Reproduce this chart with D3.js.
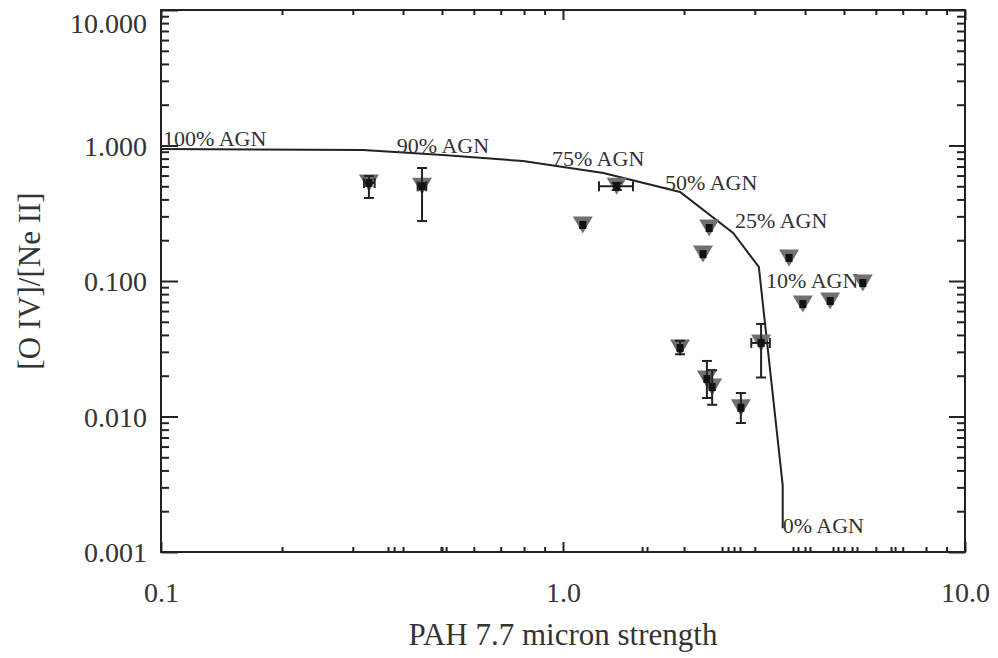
<!DOCTYPE html>
<html>
<head>
<meta charset="utf-8">
<script src="https://cdn.jsdelivr.net/npm/d3@7"></script>
<style>
  body { margin: 0; background: #fff; }
  text { font-family: "Liberation Serif", "Times New Roman", serif; fill: #333; }
</style>
</head>
<body>
<div id="chart"></div>
<script>
// PAH strength vs [O IV]/[Ne II] with AGN mixing line

// galaxies: PAH 7.7 strength and line ratio
const pahStrength = [0.329, 0.446, 1.36, 1.12, 2.31, 2.23, 3.65, 5.57, 3.95, 4.62, 1.955, 2.28, 2.35, 2.77, 3.11];
const lineRatio   = [0.529, 0.50, 0.50, 0.259, 0.246, 0.158, 0.148, 0.0966, 0.0676, 0.0712, 0.032, 0.0189, 0.0165, 0.0116, 0.0349];
// error ranges (null = no visible bar)
const ratioLow  = [0.41, 0.277, 0.47, null, null, null, null, null, null, null, 0.0288, 0.0137, 0.0122, 0.00895, 0.0194];
const ratioHigh = [0.595, 0.682, 0.53, null, null, null, null, null, null, null, 0.0362, 0.0257, 0.022, 0.0149, 0.0482];
const pahLow  = [0.32, 0.435, 1.229, null, null, null, null, null, null, null, null, null, null, null, 2.94];
const pahHigh = [0.34, 0.457, 1.493, null, null, null, null, null, null, null, null, null, null, null, 3.27];

// mixing line
const mixPah   = [0.1, 0.318, 0.503, 0.795, 1.26, 1.955, 2.65, 3.07, 3.52, 3.52];
const mixRatio = [0.942, 0.926, 0.851, 0.768, 0.627, 0.454, 0.226, 0.127, 0.0031, 0.0015];

// mixing labels
const mixLabels   = ['100% AGN', '90% AGN', '75% AGN', '50% AGN', '25% AGN', '10% AGN', '0% AGN'];
const mixLabelPah = [0.1012, 0.386, 0.939, 1.794, 2.679, 3.199, 3.52];
const mixLabelRat = [0.99, 0.880, 0.706, 0.469, 0.246, 0.0887, 0.00138];

// ticks
const xMajor = [0.1, 1, 10];
const xMinor = [0.2, 0.3, 0.4, 0.5, 0.6, 0.7, 0.8, 0.9, 2, 3, 4, 5, 6, 7, 8, 9];
const yMajor = [0.001, 0.01, 0.1, 1, 10];
const yMinor = [];
[0.001, 0.01, 0.1, 1].forEach(d => { for (let k = 2; k <= 9; k++) yMinor.push(d * k); });
// short marks along the bottom axis
const rugPah = [0.367, 0.380, 0.497, 0.512, 1.573, 1.618, 2.487, 2.573, 2.664, 2.756, 3.734, 3.842, 4.115, 4.695, 4.831, 5.236, 5.387, 6.546, 6.698];

const margin = { top: 10, right: 33, bottom: 106, left: 161 };
const width = 998 - margin.left - margin.right;
const height = 658 - margin.top - margin.bottom;

const svg = d3.select('#chart')
    .append('svg')
    .attr('width', 998)
    .attr('height', 658)
    .append('g')
    .attr('transform', `translate(${margin.left},${margin.top})`);

const x = d3.scaleLog().domain([0.1, 10]).range([0, width]);
const y = d3.scaleLog().domain([0.001, 10]).range([height, 0]);

const ink = '#222';

function styleTicks(g, sw) {
    g.select('.domain').remove();
    g.selectAll('.tick line').attr('stroke', ink).attr('stroke-width', sw);
}

// bottom axis
svg.append('g')
    .attr('transform', `translate(0,${height})`)
    .call(d3.axisBottom(x).tickValues(xMinor).tickSize(-5).tickFormat(''))
    .call(g => styleTicks(g, 2));
svg.append('g')
    .attr('transform', `translate(0,${height})`)
    .call(d3.axisBottom(x).tickValues(rugPah).tickSize(-5).tickFormat(''))
    .call(g => styleTicks(g, 2));
svg.append('g')
    .attr('transform', `translate(0,${height})`)
    .call(d3.axisBottom(x).tickValues(xMajor).tickSize(-10).tickFormat(d3.format('.1f')))
    .call(g => styleTicks(g, 2))
    .call(g => g.selectAll('text')
        .attr('y', 50).attr('dy', 0)
        .style('font-size', '28px').style('fill', '#333'));

// top axis
svg.append('g')
    .call(d3.axisTop(x).tickValues(xMinor).tickSize(-5).tickFormat(''))
    .call(g => styleTicks(g, 2));
svg.append('g')
    .call(d3.axisTop(x).tickValues(xMajor).tickSize(-10).tickFormat(''))
    .call(g => styleTicks(g, 2));

// left axis
svg.append('g')
    .call(d3.axisLeft(y).tickValues(yMinor).tickSize(-8).tickFormat(''))
    .call(g => styleTicks(g, 2));
svg.append('g')
    .call(d3.axisLeft(y).tickValues(yMajor).tickSize(-17).tickPadding(14).tickFormat(d3.format('.3f')))
    .call(g => styleTicks(g, 2))
    .call(g => g.selectAll('text')
        .attr('dy', d => d === 10 ? '0.8em' : '0.35em')
        .style('font-size', '28px').style('fill', '#333'));

// right axis
svg.append('g')
    .attr('transform', `translate(${width},0)`)
    .call(d3.axisRight(y).tickValues(yMinor).tickSize(-8).tickFormat(''))
    .call(g => styleTicks(g, 2));
svg.append('g')
    .attr('transform', `translate(${width},0)`)
    .call(d3.axisRight(y).tickValues(yMajor).tickSize(-16).tickFormat(''))
    .call(g => styleTicks(g, 2));

// frame
svg.append('rect')
    .attr('width', width)
    .attr('height', height)
    .attr('fill', 'none')
    .attr('stroke', ink)
    .attr('stroke-width', 2);

// axis titles
svg.append('text')
    .attr('x', width / 2)
    .attr('y', height + 93)
    .attr('text-anchor', 'middle')
    .style('font-size', '31px')
    .text('PAH 7.7 micron strength');

svg.append('text')
    .attr('transform', 'rotate(-90)')
    .attr('x', -height / 2)
    .attr('y', -121)
    .attr('text-anchor', 'middle')
    .style('font-size', '31px')
    .text('[O IV]/[Ne II]');

// mixing line
const mixData = mixPah.map((d, i) => ({ x: d, y: mixRatio[i] }));
svg.append('path')
    .datum(mixData)
    .attr('fill', 'none')
    .attr('stroke', ink)
    .attr('stroke-width', 2)
    .attr('d', d3.line().x(d => x(d.x)).y(d => y(d.y)));

svg.selectAll('.mix-label')
    .data(mixLabels)
    .enter()
    .append('text')
    .attr('class', 'mix-label')
    .attr('x', (d, i) => x(mixLabelPah[i]))
    .attr('y', (d, i) => y(mixLabelRat[i]))
    .style('font-size', '22px')
    .text(d => d);

// data points
const points = pahStrength.map((d, i) => ({
    x: d, y: lineRatio[i],
    yLo: ratioLow[i], yHi: ratioHigh[i],
    xLo: pahLow[i], xHi: pahHigh[i]
}));

const triW = 20, triH = 17;
svg.selectAll('.tri')
    .data(points)
    .enter()
    .append('path')
    .attr('class', 'tri')
    .attr('fill', '#707070')
    .attr('d', d => {
        const cx = x(d.x), cy = y(d.y);
        return `M${cx - triW / 2},${cy - triH / 2}L${cx + triW / 2},${cy - triH / 2}L${cx},${cy + triH / 2}Z`;
    });

const bars = svg.append('g')
    .attr('stroke', ink)
    .attr('stroke-width', 2)
    .attr('fill', 'none');

points.forEach(d => {
    const cx = x(d.x), cy = y(d.y);
    if (d.yLo !== null) {
        const y0 = y(d.yLo), y1 = y(d.yHi);
        bars.append('line').attr('x1', cx).attr('x2', cx).attr('y1', y0).attr('y2', y1);
        bars.append('line').attr('x1', cx - 5).attr('x2', cx + 5).attr('y1', y0).attr('y2', y0);
        bars.append('line').attr('x1', cx - 5).attr('x2', cx + 5).attr('y1', y1).attr('y2', y1);
    }
    if (d.xLo !== null) {
        const x0 = x(d.xLo), x1 = x(d.xHi);
        bars.append('line').attr('x1', x0).attr('x2', x1).attr('y1', cy).attr('y2', cy);
        bars.append('line').attr('x1', x0).attr('x2', x0).attr('y1', cy - 5).attr('y2', cy + 5);
        bars.append('line').attr('x1', x1).attr('x2', x1).attr('y1', cy - 5).attr('y2', cy + 5);
    }
});

svg.selectAll('.core')
    .data(points)
    .enter()
    .append('rect')
    .attr('class', 'core')
    .attr('x', d => x(d.x) - 3.5)
    .attr('y', d => y(d.y) - 4)
    .attr('width', 7)
    .attr('height', 8)
    .attr('fill', '#111');
</script>
</body>
</html>
